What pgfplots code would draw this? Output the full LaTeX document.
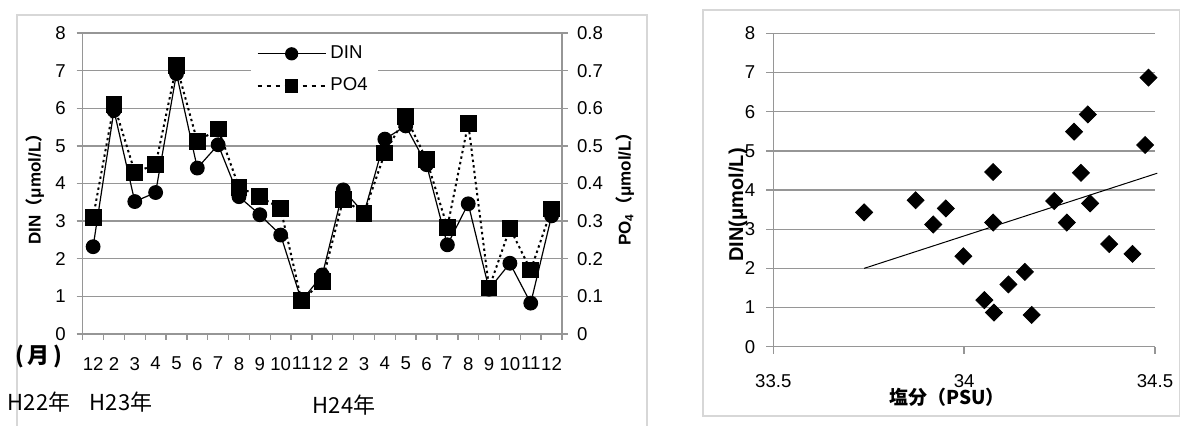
\documentclass[border=0pt]{standalone}
\usepackage{pgfplots}
\pgfplotsset{compat=1.18}
\usepackage{fontspec}
\setmainfont{Liberation Sans}
\newfontfamily\jp{Noto Sans CJK JP}
\definecolor{gridc}{RGB}{150,150,150}
\definecolor{framec}{RGB}{215,215,215}
\pgfplotsset{
  every axis/.append style={
    /pgf/number format/assume math mode=true,
    tick label style={font=\fontsize{9.3}{10}\selectfont},
    axis line style={gridc, line width=0.7pt},
    every tick/.style={gridc, line width=0.7pt},
    grid style={gridc, line width=0.7pt},
    tick align=outside,
  }
}
\begin{document}
\begin{tikzpicture}
\useasboundingbox (0,0) rectangle (590pt,213pt);
% frames
\draw[framec, line width=0.6pt] (8.5pt,-1pt) -- (8.5pt,205.5pt) -- (323.5pt,205.5pt) -- (323.5pt,-1pt);
\draw[framec, line width=0.6pt] (351.5pt,5pt) rectangle (589.6pt,208pt);

% ---------- left chart: DIN ----------
\begin{axis}[
  at={(41.35pt,46pt)}, anchor=south west,
  scale only axis, width=239.65pt, height=150.5pt,
  xmin=0, xmax=23, ymin=0, ymax=8,
  axis x line*=bottom, axis y line*=left,
  ytick={0,1,...,8}, ymajorgrids,
  major tick length=3pt,
  yticklabel style={xshift=-2pt},
  xtick={0,1,...,23},
  xticklabel style={text opacity=0},
  extra x ticks={0.5,1.5,...,22.5},
  extra x tick labels={12,2,3,4,5,6,7,8,9,10,11,12,2,3,4,5,6,7,8,9,10,11,12},
  extra x tick style={major tick length=0pt, xticklabel style={text opacity=1, yshift=-8pt, inner xsep=0pt}},
  clip=false,
]
\addplot[black, line width=0.6pt, mark=*, mark size=3.4pt, mark options={solid}] coordinates {
(0.5,2.32) (1.5,5.94) (2.5,3.52) (3.5,3.76) (4.5,6.92) (5.5,4.41) (6.5,5.03) (7.5,3.65)
(8.5,3.17) (9.5,2.63) (10.5,0.88) (11.5,1.57) (12.5,3.83) (13.5,3.21) (14.5,5.18) (15.5,5.53)
(16.5,4.50) (17.5,2.37) (18.5,3.46) (19.5,1.19) (20.5,1.88) (21.5,0.82) (22.5,3.14)
};
\end{axis}

% ---------- left chart: PO4 (right axis) ----------
\begin{axis}[
  at={(41.35pt,46pt)}, anchor=south west,
  scale only axis, width=239.65pt, height=150.5pt,
  xmin=0, xmax=23, ymin=0, ymax=0.8,
  axis x line=none, axis y line*=right,
  ytick={0,0.1,0.2,0.3,0.4,0.5,0.6,0.7,0.8},
  yticklabels={0,0.1,0.2,0.3,0.4,0.5,0.6,0.7,0.8},
  major tick length=3pt,
  yticklabel style={xshift=1pt},
  clip=false,
  legend style={at={(rel axis cs:0.35,0.985)}, anchor=north west, draw=none, fill=white,
    font=\fontsize{9.3}{10}\selectfont, row sep=4pt, inner xsep=3pt, inner ysep=2pt},
  legend cell align=left,
  legend image code/.code={\draw[mark repeat=2,mark phase=2,#1] plot coordinates {(0pt,0pt) (17pt,0pt) (34pt,0pt)};},
]
\addlegendimage{black, line width=0.6pt, mark=*, mark size=3pt, mark options={solid}}
\addlegendentry{DIN}
\addplot[black, line width=1pt, dash pattern=on 1.2pt off 1.6pt, mark=square*, mark size=3.7pt, mark options={solid},
  forget plot] coordinates {
(0.5,0.31) (1.5,0.61) (2.5,0.43) (3.5,0.45) (4.5,0.713) (5.5,0.512) (6.5,0.545) (7.5,0.39)
(8.5,0.365) (9.5,0.333) (10.5,0.088) (11.5,0.14) (12.5,0.358) (13.5,0.321) (14.5,0.481) (15.5,0.578)
(16.5,0.463) (17.5,0.284) (18.5,0.56) (19.5,0.122) (20.5,0.281) (21.5,0.17) (22.5,0.332)
};
\addlegendimage{black, line width=0.8pt, dash pattern=on 2pt off 2.5pt, mark=square*, mark size=3pt, mark options={solid}}
\addlegendentry{PO4}
\end{axis}

% left chart texts
\node[rotate=90, font=\bfseries\fontsize{8.5}{10}\selectfont, inner sep=0pt] at (17.5pt,120.5pt) {DIN{\jp\bfseries （}μmol/L{\jp\bfseries ）}};
\node[rotate=90, font=\bfseries\fontsize{8.5}{10}\selectfont, inner sep=0pt] at (312.5pt,120.5pt) {PO\textsubscript{4}{\jp\bfseries （}μmol/L{\jp\bfseries ）}};
\node[font=\jp\bfseries\fontsize{11}{12}\selectfont, inner sep=0pt] at (19.25pt,34.5pt) {(\,月\,)};
\node[font=\jp\fontsize{11}{12}\selectfont, inner sep=0pt] at (19.5pt,12pt) {H22年};
\node[font=\jp\fontsize{11}{12}\selectfont, inner sep=0pt] at (60.5pt,12pt) {H23年};
\node[font=\jp\fontsize{11}{12}\selectfont, inner sep=0pt] at (172pt,10.5pt) {H24年};

% ---------- right chart: scatter ----------
\begin{axis}[
  at={(386.65pt,39.65pt)}, anchor=south west,
  scale only axis, width=190.85pt, height=156.65pt,
  xmin=33.5, xmax=34.5, ymin=0, ymax=8,
  axis x line*=bottom, axis y line*=left,
  ytick={0,1,...,8}, ymajorgrids,
  xtick={33.5,34,34.5}, xticklabels={33.5,34,34.5},
  major tick length=3.5pt,
  yticklabel style={xshift=-2pt},
  xticklabel style={yshift=-7pt},
  clip=false,
]
\addplot[only marks, black, mark=square*, mark size=3pt, mark options={rotate=45}] coordinates {
(33.738,3.43) (33.873,3.74) (33.919,3.12) (33.952,3.53) (33.998,2.31) (34.076,4.46)
(34.076,3.17) (34.053,1.19) (34.078,0.87) (34.116,1.59) (34.159,1.91) (34.177,0.81)
(34.236,3.72) (34.269,3.17) (34.288,5.49) (34.306,4.44) (34.324,5.93) (34.330,3.66)
(34.380,2.62) (34.441,2.37) (34.474,5.15) (34.483,6.87)
};
\addplot[black, line width=0.5pt] coordinates {(33.738,2.0) (34.506,4.43)};
\end{axis}
\node[rotate=90, font=\bfseries\fontsize{10}{12}\selectfont, inner sep=0pt] at (369pt,110.5pt) {DIN(μmol/L)};
\node[font=\jp\bfseries\fontsize{9.5}{11}\selectfont, inner sep=0pt] at (473.5pt,14.5pt) {塩分（PSU）};
\end{tikzpicture}
\end{document}
